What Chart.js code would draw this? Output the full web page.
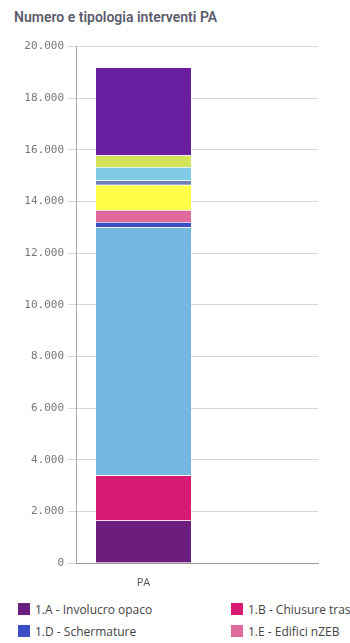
<!DOCTYPE html>
<html>
<head>
<meta charset="utf-8">
<script src="https://cdn.jsdelivr.net/npm/chart.js@4.4.0/dist/chart.umd.min.js"></script>
<style>
  html, body { margin: 0; padding: 0; background: #fff; overflow: hidden; }
  body { width: 350px; height: 643px; position: relative; }
  .title {
    position: absolute; left: 14px; top: 8px;
    font: 600 14px 'Roboto', sans-serif; color: #5c5c6c; line-height: 18px;
  }
  .wrap { position: absolute; left: 0; top: 36px; width: 350px; height: 553px; }
  .legend {
    position: absolute; left: 18px; top: 601px; width: 660px;
    display: grid; grid-template-columns: 213px 213px 213px; row-gap: 6px;
    font: 12px 'Open Sans', sans-serif; color: #444;
  }
  .legend div { display: flex; align-items: center; white-space: nowrap; height: 16px; }
  .legend span { display: inline-block; width: 12px; height: 12px; margin-right: 5px; }
</style>
</head>
<body>
<div class="title">Numero e tipologia interventi PA</div>
<div class="wrap"><canvas id="chart"></canvas></div>
<div class="legend" id="legend"></div>
<script>
// tipologie di intervento (dal basso verso l'alto)
const categories = ['PA'];
const seriesNames = [
    '1.A - Involucro opaco',
    '1.B - Chiusure trasparenti',
    '1.C - Generatori a condensazione',
    '1.D - Schermature',
    '1.E - Edifici nZEB',
    '1.F - Illuminazione',
    '1.G - Building automation',
    '2.A - Pompe di calore',
    '2.B - Generatori a biomassa',
    '2.C - Solare termico'
];
const seriesValues = [1650, 1750, 9600, 200, 470, 980, 170, 510, 460, 3410];
const seriesColors = [
    '#6b1e7d', '#d81b72', '#74b8e2', '#3b4ec6', '#e0699b',
    '#ffff4a', '#6b80b6', '#80cbe6', '#d3e35a', '#6a1fa0'
];
const yTicks = [0, 2000, 4000, 6000, 8000, 10000, 12000, 14000, 16000, 18000, 20000];

function fmt(v) {
    return String(v).replace(/\B(?=(\d{3})+(?!\d))/g, '.');
}

const datasets = seriesNames.map((name, i) => ({
    label: name,
    data: [{ x: 0, y: seriesValues[i] }],
    backgroundColor: seriesColors[i],
    borderColor: 'rgba(255,255,255,0.55)',
    borderWidth: { top: 1, bottom: 0, left: 0, right: 0 },
    borderSkipped: false,
    barThickness: 95
}));

new Chart(document.getElementById('chart'), {
    type: 'bar',
    data: { datasets },
    options: {
        responsive: true,
        maintainAspectRatio: false,
        animation: false,
        layout: { padding: { top: 9, right: 32, left: 0, bottom: 0 } },
        plugins: { legend: { display: false }, tooltip: { enabled: false } },
        scales: {
            x: {
                type: 'linear',
                stacked: true,
                offset: false,
                min: -0.5,
                max: 1.2926,
                grid: { display: false },
                border: { color: '#999' },
                afterBuildTicks: s => { s.ticks = [{ value: 0 }]; },
                afterFit: s => { s.height = 26; },
                ticks: {
                    callback: v => v === 0 ? categories[0] : '',
                    color: '#555',
                    font: { family: 'Open Sans', size: 11 },
                    padding: 5
                }
            },
            y: {
                stacked: true,
                min: 0,
                max: 20000,
                afterBuildTicks: s => { s.ticks = yTicks.map(v => ({ value: v })); },
                afterFit: s => { s.width = 76; },
                grid: { color: '#d6d6d6', tickLength: 8 },
                border: { color: '#aaa' },
                ticks: {
                    callback: v => fmt(v),
                    color: '#777',
                    font: { family: 'DejaVu Sans Mono', size: 11 },
                    padding: 4
                }
            }
        }
    }
});

// legenda html
const legend = document.getElementById('legend');
seriesNames.forEach((name, i) => {
    const el = document.createElement('div');
    el.innerHTML = '<span style="background:' + seriesColors[i] + '"></span>' + name;
    legend.appendChild(el);
});
</script>
</body>
</html>
